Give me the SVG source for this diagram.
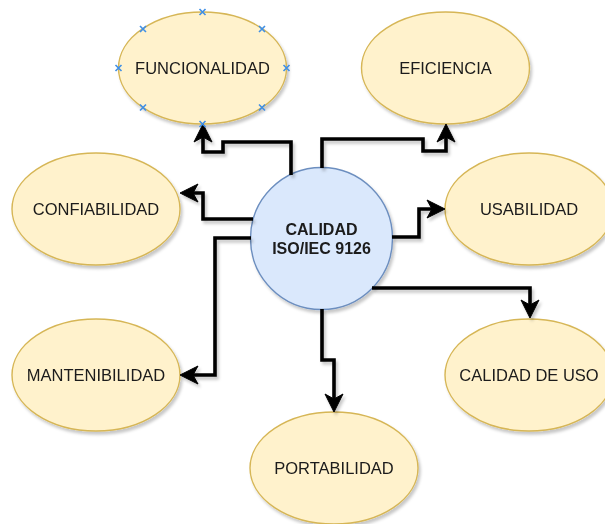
<svg xmlns="http://www.w3.org/2000/svg" width="605" height="524" viewBox="0 0 605 524">
  <style>
    .attr ellipse { fill: #fff2cc; stroke: #d6b656; stroke-width: 1.4; }
    .core circle { fill: #dae8fc; stroke: #6c8ebf; stroke-width: 1.4; }
    text { font-family: "Liberation Sans", Arial, Helvetica, sans-serif; font-size: 16.5px; fill: #1a1a1a; text-anchor: middle; }
    .bold { font-weight: bold; font-size: 16px; }
    .edge { fill: none; stroke: #000; stroke-width: 3.6; stroke-linejoin: miter; marker-end: url(#arrow); }
    .handle { stroke: #3f8fe6; stroke-width: 1.6; fill: none; }
  </style>
  <defs>
    <filter id="shadow" x="-10%" y="-10%" width="130%" height="130%">
      <feDropShadow dx="2" dy="3" stdDeviation="1.5" flood-color="#000" flood-opacity="0.22"/>
    </filter>
    <marker id="arrow" viewBox="-8 -11 22 22" markerWidth="22" markerHeight="22" refX="0" refY="0" orient="auto" markerUnits="userSpaceOnUse">
      <path d="M12,0 L-6,-9 L-1,0 L-6,9 Z" fill="#000" stroke="#000" stroke-width="1"/>
    </marker>
  </defs>

  <rect width="605" height="524" fill="#ffffff"/>

  <!-- attribute nodes -->
  <g filter="url(#shadow)">
    <g id="funcionalidad" class="attr">
      <ellipse cx="202.5" cy="68" rx="84" ry="56"/>
      <text x="202.5" y="74">FUNCIONALIDAD</text>
    </g>
    <g id="eficiencia" class="attr">
      <ellipse cx="445.5" cy="68" rx="84" ry="56"/>
      <text x="445.5" y="74">EFICIENCIA</text>
    </g>
    <g id="confiabilidad" class="attr">
      <ellipse cx="96" cy="209" rx="84" ry="56"/>
      <text x="96" y="215">CONFIABILIDAD</text>
    </g>
    <g id="usabilidad" class="attr">
      <ellipse cx="529" cy="209" rx="84" ry="56"/>
      <text x="529" y="215">USABILIDAD</text>
    </g>
    <g id="mantenibilidad" class="attr">
      <ellipse cx="96" cy="375" rx="84" ry="56"/>
      <text x="96" y="381">MANTENIBILIDAD</text>
    </g>
    <g id="calidad-de-uso" class="attr">
      <ellipse cx="529" cy="375" rx="84" ry="56"/>
      <text x="529" y="381">CALIDAD DE USO</text>
    </g>
    <g id="portabilidad" class="attr">
      <ellipse cx="334" cy="468" rx="84" ry="56"/>
      <text x="334" y="474">PORTABILIDAD</text>
    </g>
    <g id="calidad" class="core">
      <circle cx="321.5" cy="238.5" r="71"/>
      <text class="bold" x="321.5" y="234.5">CALIDAD</text>
      <text class="bold" x="321.5" y="253.5">ISO/IEC 9126</text>
    </g>
  </g>

  <!-- connectors from the central node -->
  <g id="connectors" filter="url(#shadow)">
    <path class="edge" d="M291,175 V142 H223 V152 H203 V136"/>
    <path class="edge" d="M322,168 V139 H423 V151 H446 V136"/>
    <path class="edge" d="M392,237 H419 V209 H433"/>
    <path class="edge" d="M372,288 H530 V306"/>
    <path class="edge" d="M322,309 V360 H334 V400"/>
    <path class="edge" d="M251,238 H215 V375 H192"/>
    <path class="edge" d="M253,219 H203 V193 H192"/>
  </g>

  <!-- connection-point handles on FUNCIONALIDAD -->
  <g id="handles" class="handle">
    <path d="M199.5,9 l6,6 m0,-6 l-6,6"/>
    <path d="M199.5,121 l6,6 m0,-6 l-6,6"/>
    <path d="M115.5,65 l6,6 m0,-6 l-6,6"/>
    <path d="M283.5,65 l6,6 m0,-6 l-6,6"/>
    <path d="M140,26 l6,6 m0,-6 l-6,6"/>
    <path d="M259,26 l6,6 m0,-6 l-6,6"/>
    <path d="M140,104.5 l6,6 m0,-6 l-6,6"/>
    <path d="M259,104.5 l6,6 m0,-6 l-6,6"/>
  </g>
</svg>
